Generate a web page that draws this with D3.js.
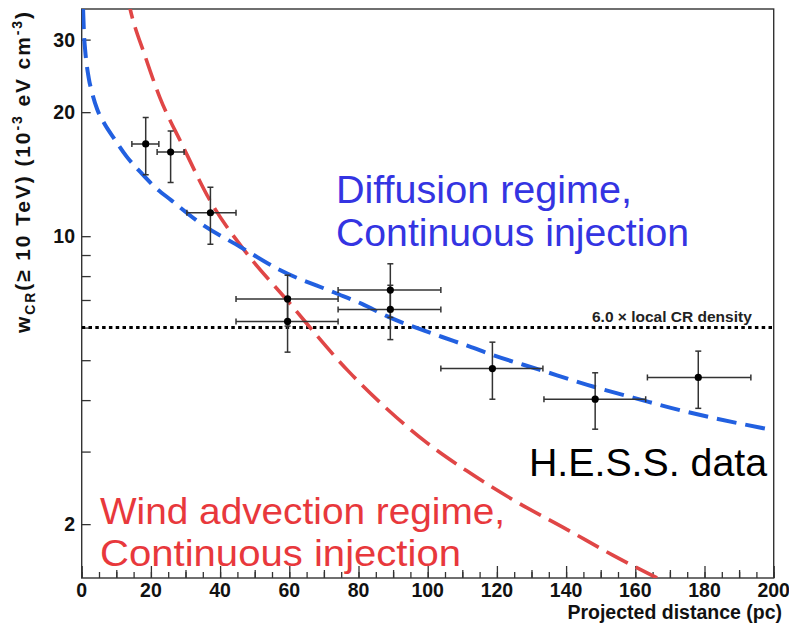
<!DOCTYPE html>
<html>
<head>
<meta charset="utf-8">
<script src="https://cdn.jsdelivr.net/npm/d3@7"></script>
<style>
  body { margin: 0; background: #fff; }
  text { font-family: "Liberation Sans", Arial, Helvetica, sans-serif; }
</style>
</head>
<body>
<svg id="chart" width="789" height="626"></svg>
<script>
// H.E.S.S. measurements: projected distance (pc) with bin edges
const distance = [18.5, 25.7, 37.2, 59.5, 59.5, 89.2, 89.2, 118.7, 148.4, 178.2];
const distLow  = [14.5, 21.8, 30.4, 44.6, 44.6, 74.1, 74.1, 103.8, 133.6, 163.5];
const distHigh = [22.3, 29.6, 44.6, 74.1, 74.1, 103.8, 103.8, 133.3, 163.0, 193.4];
// CR energy density above 10 TeV (10^-3 eV cm^-3) with error range
const density     = [16.75, 16.0, 11.4, 7.04, 6.21, 7.40, 6.64, 4.77, 4.02, 4.54];
const densityLow  = [14.1, 13.5, 9.56, 6.05, 5.23, 6.35, 5.61, 4.02, 3.40, 3.82];
const densityHigh = [19.4, 18.0, 13.15, 8.04, 7.10, 8.57, 7.60, 5.53, 4.66, 5.26];

// Model profiles: diffusion (blue) and wind advection (red), continuous injection
const diffusionX = [0.4, 0.7, 1.0, 2.0, 3.0, 4.5, 6.5, 9.5, 13, 17, 21, 26, 34, 46, 57, 73, 81, 89, 99, 104, 112, 119, 132, 148, 162, 173, 200];
const diffusionY = [35.6, 30.5, 28.3, 24.3, 22.3, 20.3, 18.8, 17.2, 15.6, 14.3, 13.2, 12.2, 10.8, 9.4, 8.3, 7.3, 6.85, 6.35, 5.9, 5.7, 5.4, 5.14, 4.75, 4.31, 4.0, 3.78, 3.38];
const advectionX = [13.1, 14.0, 18.3, 22.6, 29.0, 37.1, 47.2, 59.3, 77.0, 88.5, 99.8, 111.4, 124.7, 140.3, 153.6, 166.3, 169.2];
const advectionY = [38.5, 35.6, 27.4, 21.7, 16.7, 12.2, 9.2, 7.0, 4.71, 3.79, 3.15, 2.69, 2.29, 1.94, 1.68, 1.48, 1.44];

// Reference level: 6.0 x local CR density
const localLevel = 6.0;

// Axis tick values
const xMajorTicks = [0, 20, 40, 60, 80, 100, 120, 140, 160, 180, 200];
const yTicks = [2, 3, 4, 5, 6, 7, 8, 9, 10, 20, 30];
const yLabelled = [2, 10, 20, 30];

(function draw() {
  const svg = d3.select("#chart");
  const m = { left: 81.7, right: 773.7, top: 9, bottom: 578 };

  const x = d3.scaleLinear().domain([0, 200]).range([m.left, m.right]);
  const y = d3.scaleLog().domain([1.48, 35.6]).range([m.bottom, m.top]);

  svg.append("defs").append("clipPath").attr("id", "plotClip")
    .append("rect").attr("x", m.left).attr("y", m.top)
    .attr("width", m.right - m.left).attr("height", m.bottom - m.top);

  const axisColor = "#333";

  // Frame
  svg.append("rect")
    .attr("x", m.left).attr("y", m.top)
    .attr("width", m.right - m.left).attr("height", m.bottom - m.top)
    .attr("fill", "none").attr("stroke", axisColor).attr("stroke-width", 1.4);

  // X axis: minor ticks every 5, medium every 10, major every 20
  const xAxisMinor = d3.axisTop(x).tickValues(d3.range(0, 201, 5)).tickSize(6).tickFormat("");
  const xAxisMid = d3.axisTop(x).tickValues(d3.range(10, 200, 20)).tickSize(8).tickFormat("");
  const xAxisMajor = d3.axisTop(x).tickValues(xMajorTicks).tickSize(12).tickFormat("");
  [xAxisMinor, xAxisMid, xAxisMajor].forEach(a => {
    const g = svg.append("g").attr("transform", `translate(0,${m.bottom})`).call(a);
    g.select(".domain").remove();
    g.selectAll("line").attr("stroke", axisColor).attr("stroke-width", 1.3);
  });
  svg.append("g").selectAll("text").data(xMajorTicks).join("text")
    .attr("x", d => x(d)).attr("y", 597)
    .attr("text-anchor", "middle")
    .attr("font-size", 19.5).attr("font-weight", "bold").attr("fill", "#111")
    .text(d => d);

  // Y axis (log)
  const yAxis = d3.axisRight(y).tickValues(yTicks).tickSize(9).tickFormat("");
  const gy = svg.append("g").attr("transform", `translate(${m.left},0)`).call(yAxis);
  gy.select(".domain").remove();
  gy.selectAll("line").attr("stroke", axisColor).attr("stroke-width", 1.3);
  svg.append("g").selectAll("text").data(yLabelled).join("text")
    .attr("x", 75).attr("y", d => y(d) + 7)
    .attr("text-anchor", "end")
    .attr("font-size", 19.5).attr("font-weight", "bold").attr("fill", "#111")
    .text(d => d);

  // Axis titles
  svg.append("text")
    .attr("x", 782).attr("y", 619)
    .attr("text-anchor", "end")
    .attr("font-size", 19.5).attr("font-weight", "bold").attr("fill", "#111")
    .text("Projected distance (pc)");

  const yTitle = svg.append("text")
    .attr("transform", "translate(30,12) rotate(-90)")
    .attr("text-anchor", "end")
    .attr("font-size", 21).attr("font-weight", "bold").attr("fill", "#111")
    .attr("textLength", 321).attr("lengthAdjust", "spacing");
  yTitle.append("tspan").text("w");
  yTitle.append("tspan").attr("font-size", 14).attr("dy", 5).text("CR");
  yTitle.append("tspan").attr("dy", -5).text("(\u2265 10 TeV) (10");
  yTitle.append("tspan").attr("font-size", 14).attr("dy", -8).text("-3");
  yTitle.append("tspan").attr("dy", 8).text(" eV cm");
  yTitle.append("tspan").attr("font-size", 14).attr("dy", -8).text("-3");
  yTitle.append("tspan").attr("dy", 8).text(")");

  const plot = svg.append("g").attr("clip-path", "url(#plotClip)");

  // Dotted reference level
  plot.append("line")
    .attr("x1", x(0)).attr("x2", x(200))
    .attr("y1", y(localLevel)).attr("y2", y(localLevel))
    .attr("stroke", "#000").attr("stroke-width", 3)
    .attr("stroke-dasharray", "3.5,3.3");
  svg.append("text")
    .attr("x", 592).attr("y", 321.5)
    .attr("font-size", 15.5).attr("font-weight", "bold").attr("fill", "#222")
    .text(localLevel.toFixed(1) + " \u00d7 local CR density");

  // Model curves
  const line = d3.line().x(d => x(d[0])).y(d => y(d[1])).curve(d3.curveMonotoneX);
  plot.append("path")
    .datum(advectionX.map((v, i) => [v, advectionY[i]]))
    .attr("d", line)
    .attr("fill", "none").attr("stroke", "#e04646").attr("stroke-width", 3.6)
    .attr("stroke-dasharray", "24,9");
  plot.append("path")
    .datum(diffusionX.map((v, i) => [v, diffusionY[i]]))
    .attr("d", line)
    .attr("fill", "none").attr("stroke", "#2260e0").attr("stroke-width", 4)
    .attr("stroke-dasharray", "20,9");

  // Data points with error bars
  const pts = distance.map((d, i) => ({
    x: d, xl: distLow[i], xh: distHigh[i],
    y: density[i], yl: densityLow[i], yh: densityHigh[i]
  }));
  const eb = plot.append("g").attr("stroke", "#333").attr("stroke-width", 1.5);
  const cap = 3;
  pts.forEach(p => {
    eb.append("line").attr("x1", x(p.xl)).attr("x2", x(p.xh)).attr("y1", y(p.y)).attr("y2", y(p.y));
    eb.append("line").attr("x1", x(p.x)).attr("x2", x(p.x)).attr("y1", y(p.yl)).attr("y2", y(p.yh));
    eb.append("line").attr("x1", x(p.xl)).attr("x2", x(p.xl)).attr("y1", y(p.y) - cap).attr("y2", y(p.y) + cap);
    eb.append("line").attr("x1", x(p.xh)).attr("x2", x(p.xh)).attr("y1", y(p.y) - cap).attr("y2", y(p.y) + cap);
    eb.append("line").attr("x1", x(p.x) - cap).attr("x2", x(p.x) + cap).attr("y1", y(p.yl)).attr("y2", y(p.yl));
    eb.append("line").attr("x1", x(p.x) - cap).attr("x2", x(p.x) + cap).attr("y1", y(p.yh)).attr("y2", y(p.yh));
  });
  plot.append("g").selectAll("circle").data(pts).join("circle")
    .attr("cx", p => x(p.x)).attr("cy", p => y(p.y)).attr("r", 3.6)
    .attr("fill", "#000");

  // Annotations
  const blueText = "#3434e2", redText = "#e8383c";
  function label(lines, x0, baselines, color, widths, size) {
    lines.forEach((s, i) => {
      svg.append("text")
        .attr("x", x0).attr("y", baselines[i])
        .attr("font-size", size).attr("fill", color)
        .attr("textLength", widths[i]).attr("lengthAdjust", "spacingAndGlyphs")
        .text(s);
    });
  }
  label(["Diffusion regime,", "Continuous injection"], 336, [203, 246], blueText, [296, 353], 38);
  label(["H.E.S.S. data"], 529, [476], "#000", [238], 38);
  label(["Wind advection regime,", "Continuous injection"], 100, [524, 566], redText, [405, 361], 37);
})();
</script>
</body>
</html>
